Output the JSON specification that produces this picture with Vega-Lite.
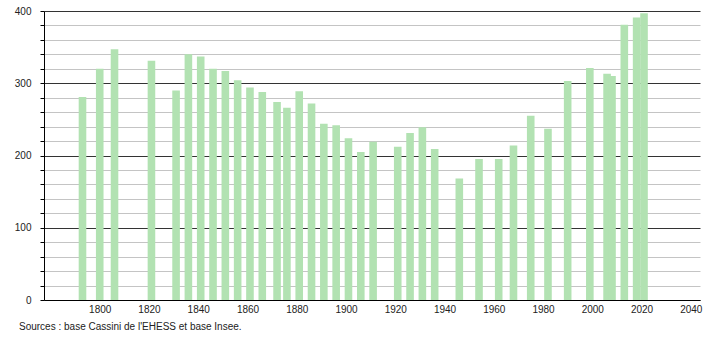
{
  "$schema": "https://vega.github.io/schema/vega-lite/v6.json",
  "width": 656,
  "height": 289,
  "autosize": {"type": "none"},
  "padding": {"left": 44, "top": 11, "right": 10, "bottom": 40},
  "background": "white",
  "config": {
    "view": {"stroke": null},
    "font": "Liberation Sans",
    "axis": {"labelFont": "Liberation Sans", "labelFontSize": 10, "labelColor": "#222", "domainColor": "#000", "domainWidth": 1}
  },
  "title": {
    "text": "Sources : base Cassini de l'EHESS et base Insee.",
    "orient": "bottom",
    "anchor": "start",
    "frame": "group",
    "dx": -25,
    "offset": 8,
    "fontSize": 10,
    "fontWeight": "normal",
    "font": "Liberation Sans",
    "color": "#222"
  },
  "data": {
    "values": [
      {"year": 1793, "pop": 281},
      {"year": 1800, "pop": 320},
      {"year": 1806, "pop": 347},
      {"year": 1821, "pop": 331},
      {"year": 1831, "pop": 290},
      {"year": 1836, "pop": 340},
      {"year": 1841, "pop": 337},
      {"year": 1846, "pop": 320},
      {"year": 1851, "pop": 317},
      {"year": 1856, "pop": 304},
      {"year": 1861, "pop": 294},
      {"year": 1866, "pop": 288},
      {"year": 1872, "pop": 274},
      {"year": 1876, "pop": 266},
      {"year": 1881, "pop": 289},
      {"year": 1886, "pop": 272},
      {"year": 1891, "pop": 244},
      {"year": 1896, "pop": 242},
      {"year": 1901, "pop": 224},
      {"year": 1906, "pop": 205},
      {"year": 1911, "pop": 219},
      {"year": 1921, "pop": 212},
      {"year": 1926, "pop": 231},
      {"year": 1931, "pop": 239},
      {"year": 1936, "pop": 209},
      {"year": 1946, "pop": 168},
      {"year": 1954, "pop": 195},
      {"year": 1962, "pop": 195},
      {"year": 1968, "pop": 214},
      {"year": 1975, "pop": 255},
      {"year": 1982, "pop": 237},
      {"year": 1990, "pop": 303},
      {"year": 1999, "pop": 321},
      {"year": 2006, "pop": 313},
      {"year": 2008, "pop": 310},
      {"year": 2013, "pop": 381},
      {"year": 2018, "pop": 391},
      {"year": 2021, "pop": 397}
    ]
  },
  "mark": {"type": "bar", "width": 7.6, "color": "#b2e2b2", "opacity": 1},
  "encoding": {
    "x": {
      "field": "year",
      "type": "quantitative",
      "scale": {"domain": [1779.4, 2041.7], "nice": false, "zero": false},
      "axis": {
        "title": null,
        "values": [1800, 1820, 1840, 1860, 1880, 1900, 1920, 1940, 1960, 1980, 2000, 2020, 2040],
        "format": "d",
        "ticks": false,
        "tickSize": 0,
        "labelPadding": 4,
        "grid": false,
        "labelOverlap": false,
        "labelFlush": false
      }
    },
    "y": {
      "field": "pop",
      "type": "quantitative",
      "scale": {"domain": [0, 400], "nice": false},
      "axis": {
        "title": null,
        "values": [0, 20, 40, 60, 80, 100, 120, 140, 160, 180, 200, 220, 240, 260, 280, 300, 320, 340, 360, 380, 400],
        "labelExpr": "datum.value % 100 === 0 ? datum.label : ''",
        "labelOverlap": false,
        "labelFlush": false,
        "grid": true,
        "gridColor": {"condition": {"test": "datum.value % 100 === 0", "value": "#333333"}, "value": "#c4c4c4"},
        "gridWidth": 1,
        "ticks": true,
        "tickSize": 4,
        "tickColor": "#000",
        "labelPadding": 9
      }
    }
  }
}
